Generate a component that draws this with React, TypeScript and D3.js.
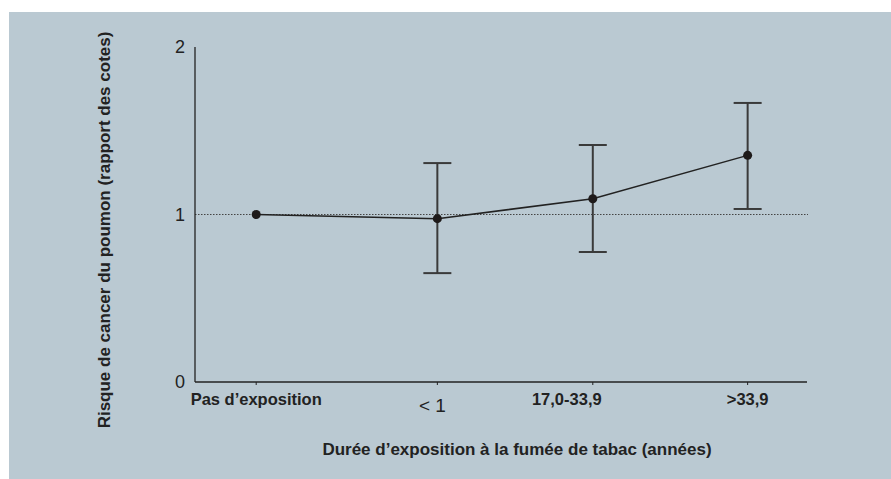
import * as d3 from "d3";
import React from "react";

const categories = ["Pas d'exposition", "<1", "17,0-33,9", ">33,9"];
const oddsRatio = [1.0, 0.975, 1.094, 1.353];
const ciLow = [1.0, 0.65, 0.776, 1.033];
const ciHigh = [1.0, 1.307, 1.415, 1.666];
const yTicks = [0, 1, 2];

const W = 891;
const H = 479;
const margin = { left: 195, right: 84, top: 47, bottom: 97 };

const App = () => {
  const plotW = W - margin.left - margin.right;
  const y = d3.scaleLinear().domain([0, 2]).range([H - margin.bottom, margin.top]);
  // category slots along the axis (first gap a bit wider, as in the figure)
  const slots = [0.1, 0.396, 0.65, 0.903];
  const x = d3
    .scaleOrdinal<string, number>()
    .domain(categories)
    .range(slots.map((s) => margin.left + s * plotW));

  const pts = categories.map((c, i) => ({
    c,
    v: oddsRatio[i],
    lo: ciLow[i],
    hi: ciHigh[i],
  }));

  const line = d3
    .line<(typeof pts)[number]>()
    .x((d) => x(d.c))
    .y((d) => y(d.v));

  const font = "'Liberation Sans', Arial, sans-serif";
  const capW = 14;

  return (
    <svg width={W} height={H} style={{ position: "absolute", left: 0, top: 0 }}>
      <rect x={9} y={12} width={W - 9} height={H - 12} fill="#bac9d2" />

      {/* reference line at 1 */}
      <line
        x1={margin.left}
        x2={W - margin.right + 1}
        y1={y(1)}
        y2={y(1)}
        stroke="#444"
        strokeWidth={1}
        strokeDasharray="1.5,1.5"
      />

      {/* axes */}
      <line x1={margin.left} x2={margin.left} y1={y(2)} y2={y(0)} stroke="#222" strokeWidth={1.3} />
      <line x1={margin.left} x2={W - margin.right} y1={y(0)} y2={y(0)} stroke="#222" strokeWidth={1.3} />
      {categories.map((c) => (
        <line key={c} x1={x(c)} x2={x(c)} y1={y(0)} y2={y(0) + 3} stroke="#222" strokeWidth={1} />
      ))}

      {yTicks.map((t) => (
        <text
          key={t}
          x={margin.left - 10}
          y={y(t)}
          dy="0.35em"
          textAnchor="end"
          fontFamily={font}
          fontSize={18}
          fill="#222"
        >
          {t}
        </text>
      ))}

      {categories.map((c) => (
        <text
          key={c}
          x={x(c)}
          dx={c === "17,0-33,9" ? -26 : c === "<1" ? -5 : 0}
          y={c === "<1" ? 412 : 405}
          textAnchor="middle"
          fontFamily={font}
          fontSize={c === "<1" ? 19 : 16.5}
          fontWeight={c === "<1" ? "normal" : "bold"}
          fill="#222"
        >
          {c === "<1" ? "< 1" : c.replace("'", "\u2019")}
        </text>
      ))}

      {/* error bars */}
      {pts
        .filter((d) => d.hi !== d.lo)
        .map((d) => (
          <g key={d.c} stroke="#3a3a3a" strokeWidth={2}>
            <line x1={x(d.c)} x2={x(d.c)} y1={y(d.hi)} y2={y(d.lo)} />
            <line x1={x(d.c) - capW} x2={x(d.c) + capW} y1={y(d.hi)} y2={y(d.hi)} />
            <line x1={x(d.c) - capW} x2={x(d.c) + capW} y1={y(d.lo)} y2={y(d.lo)} />
          </g>
        ))}

      <path d={line(pts) ?? ""} fill="none" stroke="#222" strokeWidth={1.5} />
      {pts.map((d) => (
        <circle key={d.c} cx={x(d.c)} cy={y(d.v)} r={4.5} fill="#1e1a1a" />
      ))}

      <text
        x={517}
        y={455}
        textAnchor="middle"
        fontFamily={font}
        fontSize={17}
        fontWeight="bold"
        fill="#222"
      >
        Durée d’exposition à la fumée de tabac (années)
      </text>
      <text
        transform={`translate(110, 230) rotate(-90)`}
        textAnchor="middle"
        fontFamily={font}
        fontSize={17}
        fontWeight="bold"
        fill="#222"
      >
        Risque de cancer du poumon (rapport des cotes)
      </text>
    </svg>
  );
};

export default App;
